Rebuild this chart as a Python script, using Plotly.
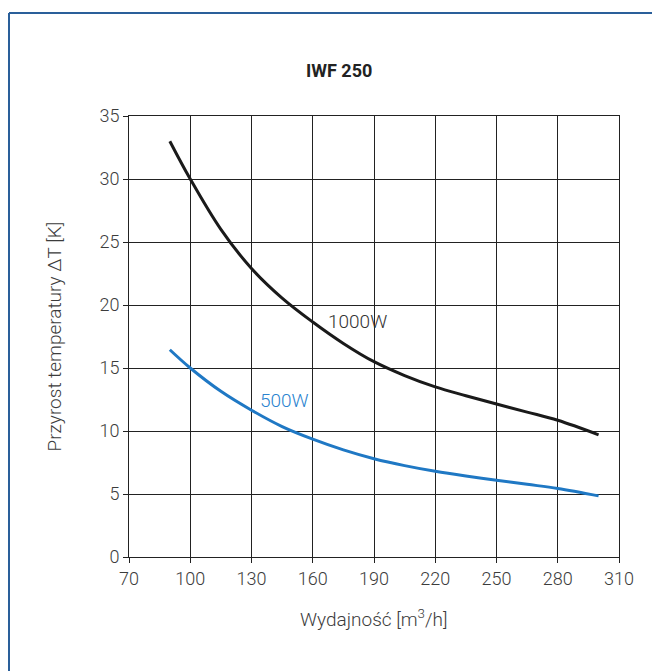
import plotly.graph_objects as go

flow = [90, 100, 115, 130, 145, 160, 175, 190, 205, 220, 235, 250, 265, 280, 300]
t_1000 = [33.0, 30.0, 26.0, 22.9, 20.55, 18.65, 16.95, 15.5, 14.4, 13.5, 12.8, 12.14, 11.5, 10.85, 9.7]
t_500 = [16.45, 15.0, 13.15, 11.65, 10.35, 9.35, 8.5, 7.8, 7.25, 6.8, 6.43, 6.1, 5.77, 5.44, 4.85]

x_ticks = [70, 100, 130, 160, 190, 220, 250, 280, 310]
y_ticks = [0, 5, 10, 15, 20, 25, 30, 35]

FONT = "Roboto"
TXT = "#3c3c3c"
GRID = "#222222"

# plot area in window pixels (page body offset 8px)
L, R, T, B = 129, 619, 116, 557
W, H = R - L, B - T


def px(x):
    return (x - L) / W


def py(y):
    return (B - y) / H


fig = go.Figure()
fig.add_trace(go.Scatter(x=flow, y=t_1000, mode="lines",
                         line=dict(color="#1a1a1a", width=3, shape="spline", smoothing=1.0),
                         hoverinfo="skip", showlegend=False))
fig.add_trace(go.Scatter(x=flow, y=t_500, mode="lines",
                         line=dict(color="#1f78c4", width=3, shape="spline", smoothing=1.0),
                         hoverinfo="skip", showlegend=False))

fig.add_annotation(x=182, y=18.7, text="1000W", showarrow=False,
                   font=dict(family=FONT, size=19, color="#333333", weight=300))
fig.add_annotation(x=146, y=12.4, text="500W", showarrow=False,
                   font=dict(family=FONT, size=19, color="#2a83cf", weight=300))

fig.add_annotation(x=px(339), y=py(58), xref="paper", yref="paper", text="<b>IWF 250</b>",
                   showarrow=False, font=dict(family=FONT, size=18, color="#222222"))
fig.add_annotation(x=px(374), y=py(633), xref="paper", yref="paper", text="Wydajność [m<sup>3</sup>/h]",
                   showarrow=False, font=dict(family=FONT, size=19, color=TXT, weight=300))
fig.add_annotation(x=px(40), y=py(337), xref="paper", yref="paper", text="Przyrost temperatury ΔT [K]",
                   textangle=-90, showarrow=False, font=dict(family=FONT, size=19, color=TXT, weight=300))

# border (top and left)
fig.add_shape(type="line", xref="paper", yref="paper", x0=px(9), y0=py(13),
              x1=px(700), y1=py(13), line=dict(color="#2a5f9a", width=2))
fig.add_shape(type="line", xref="paper", yref="paper", x0=px(9), y0=py(13),
              x1=px(9), y1=py(720), line=dict(color="#2a5f9a", width=2))

fig.update_xaxes(range=[70, 310], tickvals=x_ticks, showgrid=True, gridcolor=GRID, gridwidth=1,
                 showline=True, linecolor=GRID, linewidth=1, mirror=True,
                 ticks="outside", ticklen=5, tickcolor=GRID,
                 tickfont=dict(family=FONT, size=18, color=TXT, weight=300), zeroline=False)
fig.update_yaxes(range=[0, 35], tickvals=y_ticks, showgrid=True, gridcolor=GRID, gridwidth=1,
                 showline=True, linecolor=GRID, linewidth=1, mirror=True,
                 ticks="outside", ticklen=5, tickcolor=GRID,
                 tickfont=dict(family=FONT, size=18, color=TXT, weight=300), zeroline=False)

fig.update_layout(width=660, height=671,
                  margin=dict(l=L - 8, r=660 - (R - 8), t=T - 8, b=671 - (B - 8)),
                  plot_bgcolor="white", paper_bgcolor="white")

fig.write_html("out.html")
